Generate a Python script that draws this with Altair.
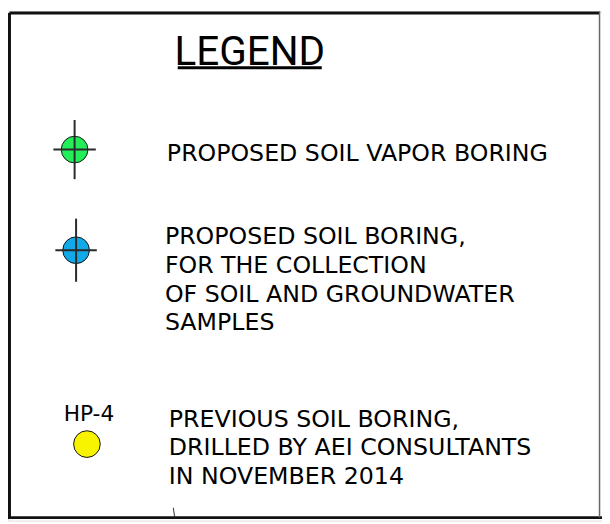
import altair as alt
import pandas as pd

# ---------------- data (content) ----------------
title_text = "LEGEND"
item_lines = [
    ["PROPOSED SOIL VAPOR BORING"],
    ["PROPOSED SOIL BORING,", "FOR THE COLLECTION", "OF SOIL AND GROUNDWATER", "SAMPLES"],
    ["PREVIOUS SOIL BORING,", "DRILLED BY AEI CONSULTANTS", "IN NOVEMBER 2014"],
]
symbol_colors = ["#22EE5A", "#12A9E8", "#F8F400"]
symbol_has_cross = [True, True, False]
symbol_label = ["", "", "HP-4"]

# ---------------- layout (page pixels) ----------------
OFF = 8
W, H = 602, 516
symbol_x = [75.5, 77, 88]
symbol_y = [148, 250, 446.5]
cross_half_h = [21.5, 21]
cross_half_v = [30, 32]
text_x = [169, 167, 171]
text_y0 = [160, 244, 429]
line_gap = 29

xs = alt.Scale(domain=[OFF, OFF + W], nice=False, zero=False)
ys = alt.Scale(domain=[OFF, OFF + H], reverse=True, nice=False, zero=False)
X = lambda f: alt.X(f, type="quantitative", scale=xs, axis=None)
Y = lambda f: alt.Y(f, type="quantitative", scale=ys, axis=None)
X2 = lambda f: alt.X2(f)
Y2 = lambda f: alt.Y2(f)

# border
border = pd.DataFrame([
    dict(x=OFF + 1.5, y=OFF + 1.5, x2=OFF + W - 2, y2=OFF + 1.5, w=3, c="#111111"),
    dict(x=OFF + 1.5, y=OFF + 1.5, x2=OFF + 1.5, y2=521, w=3, c="#111111"),
    dict(x=OFF, y=521, x2=OFF + W, y2=521, w=3, c="#111111"),
    dict(x=607.5, y=OFF, x2=607.5, y2=521, w=1.5, c="#666666"),
    dict(x=175.5, y=511, x2=177, y2=521, w=1, c="#333333"),
])
border_layer = alt.Chart(border).mark_rule(clip=False).encode(
    x=X("x"), y=Y("y"), x2=X2("x2"), y2=Y2("y2"),
    strokeWidth=alt.StrokeWidth("w:Q", scale=None),
    color=alt.Color("c:N", scale=None),
)

# title
title_df = pd.DataFrame([dict(x=253, y=62, t=title_text)])
title_layer = alt.Chart(title_df).mark_text(
    font="Roboto", fontSize=41, align="center",
    baseline="alphabetic", color="#000000",
).encode(x=X("x"), y=Y("y"), text="t:N")
underline_df = pd.DataFrame([dict(x=180, x2=326, y=65)])
underline_layer = alt.Chart(underline_df).mark_rule(strokeWidth=3, color="#000000").encode(
    x=X("x"), x2=X2("x2"), y=Y("y")
)

# symbols
sym_df = pd.DataFrame(dict(x=symbol_x, y=symbol_y, c=symbol_colors))
sym_layer = alt.Chart(sym_df).mark_point(
    shape="circle", filled=True, size=729, stroke="#111111", strokeWidth=1, opacity=1
).encode(x=X("x"), y=Y("y"), fill=alt.Fill("c:N", scale=None))

cross_rows = []
for i, has in enumerate(symbol_has_cross):
    if not has:
        continue
    cx, cy = symbol_x[i], symbol_y[i]
    cross_rows.append(dict(x=cx - cross_half_h[i], x2=cx + cross_half_h[i], y=cy, y2=cy))
    cross_rows.append(dict(x=cx, x2=cx, y=cy - cross_half_v[i], y2=cy + cross_half_v[i]))
cross_layer = alt.Chart(pd.DataFrame(cross_rows)).mark_rule(strokeWidth=2, color="#2a2a2a").encode(
    x=X("x"), x2=X2("x2"), y=Y("y"), y2=Y2("y2")
)

lab_df = pd.DataFrame([dict(x=symbol_x[i] + 2, y=423, t=s) for i, s in enumerate(symbol_label) if s])
lab_layer = alt.Chart(lab_df).mark_text(
    font="DejaVu Sans", fontSize=22, align="center", baseline="alphabetic", color="#000000"
).encode(x=X("x"), y=Y("y"), text="t:N")

# item texts
rows = []
for i, lines in enumerate(item_lines):
    for j, s in enumerate(lines):
        rows.append(dict(x=text_x[i], y=text_y0[i] + j * line_gap, t=s))
text_layer = alt.Chart(pd.DataFrame(rows)).mark_text(
    font="DejaVu Sans", fontSize=24, align="left", baseline="alphabetic", color="#000000"
).encode(x=X("x"), y=Y("y"), text="t:N")

chart = alt.layer(
    border_layer, title_layer, underline_layer, sym_layer, cross_layer, lab_layer, text_layer
).properties(
    width=W, height=H, padding=0, autosize=alt.AutoSizeParams(type="none")
).configure_view(stroke=None).configure(background="white")

chart.save("out.html", embed_options={"renderer": "svg", "actions": False})
